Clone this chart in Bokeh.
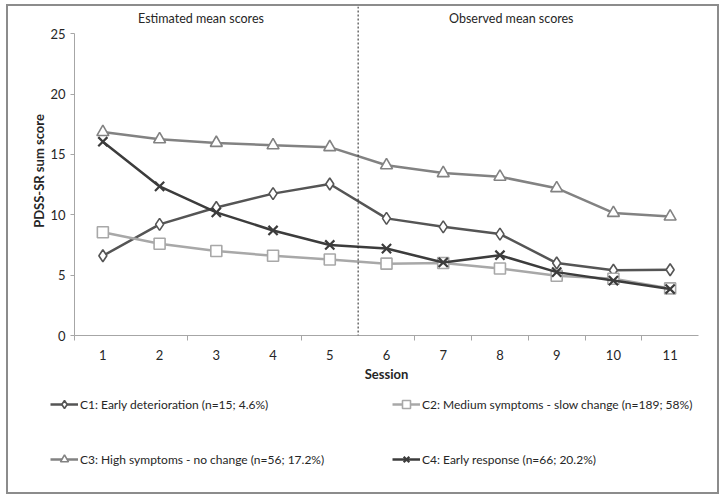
from bokeh.plotting import figure
from bokeh.layouts import column
from bokeh.models import (Range1d, FixedTicker, LinearAxis, Legend, LegendItem,
                          Span, Label, Column)
from bokeh.embed import file_html
from bokeh.resources import INLINE

# ---- data -------------------------------------------------------------
sessions = [1, 2, 3, 4, 5, 6, 7, 8, 9, 10, 11]
c1_early_deterioration = [6.6, 9.2, 10.6, 11.75, 12.55, 9.7, 9.0, 8.4, 6.0, 5.4, 5.45]
c2_medium_slow = [8.55, 7.6, 7.0, 6.6, 6.3, 5.95, 6.0, 5.55, 4.95, 4.7, 3.9]
c3_high_no_change = [16.85, 16.25, 15.95, 15.75, 15.6, 14.1, 13.45, 13.15, 12.2, 10.15, 9.85]
c4_early_response = [16.05, 12.35, 10.2, 8.7, 7.5, 7.2, 6.05, 6.65, 5.25, 4.55, 3.85]

labels = ["C1: Early deterioration (n=15; 4.6%)",
          "C2: Medium symptoms - slow change (n=189; 58%)",
          "C3: High symptoms - no change (n=56; 17.2%)",
          "C4: Early response (n=66; 20.2%)"]
y_ticks = [0, 5, 10, 15, 20, 25]
boundary_ticks = [0.5, 2.5, 4.5, 6.5, 7.5, 8.5, 9.5, 10.5]
split_at = 5.5
section_titles = ["Estimated mean scores", "Observed mean scores"]

FONT = "Lato"
TXT = "#262626"
AX = "#a6a6a6"
BORDER = "2px solid #8c8c8c"
W = 713

p = figure(width=W, height=385, output_backend="svg", toolbar_location=None,
           x_range=Range1d(0.5, 11.5), y_range=Range1d(0, 27.25),
           min_border_left=66, min_border_right=23, min_border_top=0,
           min_border_bottom=56, outline_line_color=None)
p.styles = {"border-left": BORDER, "border-right": BORDER, "border-top": BORDER,
            "box-sizing": "border-box"}
p.grid.visible = False

# x axis
xa = p.xaxis[0]
xa.ticker = FixedTicker(ticks=sessions, minor_ticks=boundary_ticks)
xa.axis_line_color = AX
xa.major_tick_line_color = None
xa.major_tick_out = 0
xa.minor_tick_line_color = AX
xa.minor_tick_out = 5
xa.minor_tick_in = 0
xa.major_label_standoff = 9
xa.major_label_text_font = FONT
xa.major_label_text_font_size = "13px"
xa.major_label_text_color = TXT
xa.axis_label = "Session"
xa.axis_label_text_font = FONT
xa.axis_label_text_font_style = "bold"
xa.axis_label_text_font_size = "13px"
xa.axis_label_text_color = TXT
xa.axis_label_standoff = 3

# y axis
ya = p.yaxis[0]
ya.ticker = FixedTicker(ticks=y_ticks)
ya.bounds = (0, 25)
ya.axis_line_color = AX
ya.major_tick_line_color = AX
ya.major_tick_out = 4
ya.major_tick_in = 0
ya.minor_tick_line_color = None
ya.major_label_standoff = 5
ya.major_label_text_font = FONT
ya.major_label_text_font_size = "13px"
ya.major_label_text_color = TXT

# label-only axis for the y title
yl = LinearAxis(ticker=FixedTicker(ticks=[]), axis_line_color=None,
                major_tick_line_color=None, minor_tick_line_color=None,
                major_tick_out=0, minor_tick_out=0,
                axis_label="PDSS-SR sum score", axis_label_text_font=FONT,
                axis_label_text_font_style="bold", axis_label_text_font_size="13px",
                axis_label_text_color=TXT, axis_label_standoff=1)
p.add_layout(yl, "left")

# split line
p.add_layout(Span(location=split_at, dimension="height", line_color="#222222",
                  line_width=1, line_dash="2 2"))

# series
styles = [
    (c1_early_deterioration, "#555555", "diamond", 12, "white"),
    (c2_medium_slow, "#a8a8a8", "square", 11, "white"),
    (c3_high_no_change, "#828282", "triangle", 12, "white"),
    (c4_early_response, "#3c3c3c", "x", 13, None),
]

# legend panel (separate figure below the chart; its ranges keep the
# series copies out of view so that only the legend shows)
lg = figure(width=W, height=105, output_backend="svg", toolbar_location=None,
            x_range=Range1d(-100, -99), y_range=Range1d(-100, -99),
            x_axis_location=None, y_axis_location=None,
            min_border=0, min_border_left=0, min_border_right=0,
            min_border_top=0, min_border_bottom=0, outline_line_color=None)
lg.styles = {"border-left": BORDER, "border-right": BORDER, "border-bottom": BORDER,
             "box-sizing": "border-box"}
lg.grid.visible = False

items = []
for (ys, col, mk, sz, fill), lab in zip(styles, labels):
    lw = 1.6 if mk != "x" else 2.2
    p.line(sessions, ys, line_color=col, line_width=2.5)
    p.scatter(sessions, ys, marker=mk, size=sz, line_color=col,
              line_width=lw, fill_color=fill)
    l_ln = lg.line(sessions, ys, line_color=col, line_width=2.5)
    l_sc = lg.scatter(sessions, ys, marker=mk, size=sz - 2, line_color=col,
                      line_width=lw, fill_color=fill)
    items.append(LegendItem(label=lab, renderers=[l_ln, l_sc]))

legend = Legend(items=items, location=(42, 25), ncols=2,
                orientation="horizontal",
                glyph_width=28, glyph_height=20, label_height=20,
                label_width=277, label_standoff=2, spacing=35,
                padding=0, margin=0,
                label_text_font=FONT, label_text_font_size="12px",
                label_text_color=TXT, border_line_color=None,
                background_fill_alpha=0)
lg.add_layout(legend, "center")

# section titles
p.add_layout(Label(x=2.73, y=26.25, text=section_titles[0], text_align="center",
                   text_baseline="middle", text_font=FONT, text_font_size="12.5px",
                   text_color=TXT))
p.add_layout(Label(x=8.2, y=26.25, text=section_titles[1], text_align="center",
                   text_baseline="middle", text_font=FONT, text_font_size="12.5px",
                   text_color=TXT))

layout = column(p, Column(lg), spacing=0)
layout.margin = (4, 0, 0, 6)
open("out.html", "w").write(file_html(layout, INLINE))
